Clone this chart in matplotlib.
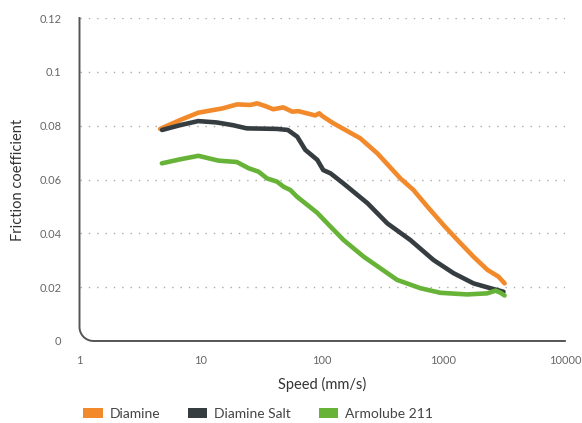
import numpy as np
import matplotlib

matplotlib.use("Agg")
import matplotlib.pyplot as plt
from matplotlib.patches import Patch

plt.rcParams["font.family"] = ["Lato", "DejaVu Sans"]

# Data
diamine_speed = [4.62, 6.75, 9.50, 11.9, 15.0, 19.9, 25.5, 29.1, 33.9, 39.5, 47.8, 56.7, 63.5,
                 87.7, 94.6, 100, 123.5, 206, 285, 441, 565, 737, 998, 1303, 1766, 2303, 2837, 3184]
diamine_mu = [0.0788, 0.0821, 0.0848, 0.0856, 0.0864, 0.0879, 0.0877, 0.0883, 0.0873, 0.0861,
              0.0868, 0.0852, 0.0854, 0.0838, 0.0846, 0.0836, 0.0809, 0.0753, 0.0697, 0.0604,
              0.0561, 0.0499, 0.0431, 0.0375, 0.0313, 0.0264, 0.0239, 0.0214]

salt_speed = [4.79, 6.75, 9.50, 13.5, 18.3, 23.9, 42.3, 52.1, 62.3, 72.6, 91.1, 102, 117, 149,
              236, 344, 533, 826, 1208, 1766, 2438, 3118]
salt_mu = [0.0784, 0.0802, 0.0817, 0.0812, 0.0802, 0.0790, 0.0788, 0.0784, 0.0759, 0.0710,
           0.0673, 0.0635, 0.0623, 0.0586, 0.0512, 0.0437, 0.0375, 0.0301, 0.0252, 0.0214,
           0.0196, 0.0183]

armo_speed = [4.77, 6.75, 9.55, 14.0, 19.8, 24.7, 29.9, 35.1, 42.4, 48.1, 54.6, 62.0, 90.6, 117,
              150, 220, 414, 645, 943, 1566, 2290, 2682, 2950, 3184]
armo_mu = [0.0660, 0.0675, 0.0688, 0.0670, 0.0665, 0.0642, 0.0629, 0.0604, 0.0592, 0.0573,
           0.0561, 0.0536, 0.0477, 0.0425, 0.0375, 0.0313, 0.0227, 0.0196, 0.0179, 0.0173,
           0.0177, 0.0187, 0.0179, 0.0169]

series_names = ["Diamine", "Diamine Salt", "Armolube 211"]
series_colors = ["#F28A2B", "#363D40", "#67B337"]

y_ticks = [0, 0.02, 0.04, 0.06, 0.08, 0.1, 0.12]
y_labels = ["0", "0.02", "0.04", "0.06", "0.08", "0.1", "0.12"]
x_ticks = [1, 10, 100, 1000, 10000]
x_labels = ["1", "10", "100", "1000", "10000"]

fig = plt.figure(figsize=(5.82, 4.23), dpi=100)
ax = fig.add_axes([0.1366, 0.1939, 0.834, 0.7635])

for xs, ys, color in zip([diamine_speed, salt_speed, armo_speed],
                         [diamine_mu, salt_mu, armo_mu], series_colors):
    ax.plot(xs, ys, color=color, lw=3.3, solid_capstyle="round", solid_joinstyle="round", zorder=3)

ax.set_xscale("log")
ax.set_xlim(1, 10000)
ax.set_ylim(0, 0.12)
ax.set_xticks(x_ticks)
ax.set_xticklabels(x_labels)
ax.set_yticks(y_ticks)
ax.set_yticklabels(y_labels)
ax.minorticks_off()
ax.tick_params(length=0, labelsize=8, colors="#666666")
ax.tick_params(axis="y", pad=13)
ax.tick_params(axis="x", pad=10)

for y in y_ticks[1:]:
    ax.axhline(y, color="#AAAAAA", lw=1.0, linestyle=(0, (1, 5)), zorder=1)

for s in ax.spines.values():
    s.set_visible(False)

# axis frame with rounded bottom-left corner
rx, ry = 14 / 485.5, 14 / 323
t = np.linspace(np.pi, 1.5 * np.pi, 20)
arc_x = rx + rx * np.cos(t)
arc_y = ry + ry * np.sin(t)
fx = np.concatenate([[0], arc_x, [1]])
fy = np.concatenate([[1], arc_y, [0]])
ax.plot(fx, fy, transform=ax.transAxes, color="#555555", lw=1.4, clip_on=False, zorder=4)

ax.set_xlabel("Speed (mm/s)", fontsize=10.5, color="#333333", labelpad=8)
ax.set_ylabel("Friction coefficient", fontsize=10.5, color="#333333", labelpad=10)

handles = [Patch(facecolor=c, edgecolor="none") for c in series_colors]
fig.legend(handles, series_names, loc="center left", bbox_to_anchor=(0.131, 0.021), ncol=3,
           frameon=False, fontsize=10, handlelength=1.4, handleheight=0.7,
           handletextpad=0.5, columnspacing=2.0, borderpad=0, labelcolor="#444444")

fig.savefig("out.png", dpi=100)
